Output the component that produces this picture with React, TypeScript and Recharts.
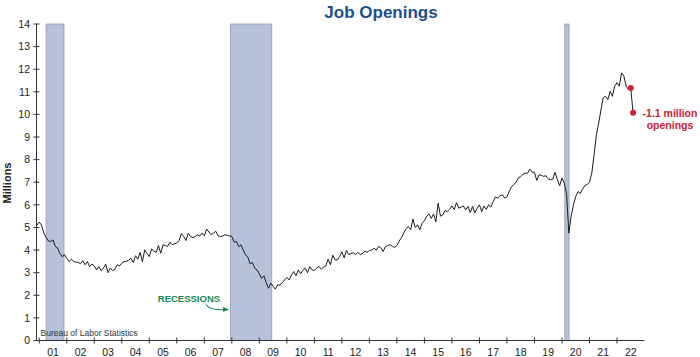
import { LineChart, Line, XAxis, YAxis, ReferenceArea, ReferenceDot } from 'recharts'

// job openings, millions, monthly (Dec 2000 - Aug 2022)
const y2000 = [5.1] // Dec only
const y2001 = [5.24, 5.1, 4.75, 4.55, 4.4, 4.38, 4.45, 4.16, 4.09, 3.86, 3.71, 3.79]
const y2002 = [3.64, 3.49, 3.6, 3.49, 3.47, 3.45, 3.4, 3.53, 3.35, 3.49, 3.27, 3.38]
const y2003 = [3.3, 3.12, 3.27, 3.09, 3.2, 3.38, 3.0, 3.2, 3.09, 3.15, 3.35, 3.3]
const y2004 = [3.42, 3.49, 3.5, 3.55, 3.64, 3.45, 3.75, 3.6, 3.9, 3.49, 4.01, 3.85]
const y2005 = [3.71, 4.05, 3.95, 3.9, 4.2, 3.86, 4.24, 4.2, 4.16, 4.35, 4.24, 4.28]
const y2006 = [4.31, 4.42, 4.73, 4.6, 4.42, 4.75, 4.6, 4.55, 4.6, 4.68, 4.62, 4.75]
const y2007 = [4.63, 4.93, 4.8, 4.68, 4.75, 4.83, 4.63, 4.6, 4.62, 4.68, 4.65, 4.63]
const y2008 = [4.6, 4.35, 4.38, 4.16, 4.23, 4.0, 3.79, 3.68, 3.39, 3.45, 3.2, 3.12]
const y2009 = [2.95, 2.75, 2.86, 2.56, 2.31, 2.53, 2.4, 2.27, 2.46, 2.45, 2.56, 2.68]
const y2010 = [2.79, 2.68, 2.9, 3.05, 2.86, 3.12, 2.95, 3.1, 3.2, 3.0, 3.27, 3.12]
const y2011 = [3.1, 3.2, 3.27, 3.16, 3.24, 3.3, 3.6, 3.35, 3.77, 3.57, 3.56, 3.71]
const y2012 = [3.92, 3.66, 3.98, 3.8, 3.85, 3.88, 3.8, 3.9, 3.8, 3.85, 3.95, 3.9]
const y2013 = [3.98, 4.0, 4.08, 4.0, 4.16, 4.1, 3.94, 4.16, 4.2, 4.24, 4.16, 4.12]
const y2014 = [4.2, 4.4, 4.55, 4.75, 4.95, 5.04, 4.9, 5.37, 5.0, 5.12, 4.9, 5.19]
const y2015 = [5.3, 5.5, 5.6, 5.4, 5.6, 5.25, 6.08, 5.5, 5.55, 5.75, 5.7, 5.8]
const y2016 = [5.95, 5.8, 6.1, 5.85, 5.9, 5.95, 5.78, 5.93, 5.66, 5.93, 5.64, 5.85]
const y2017 = [6.0, 5.7, 5.95, 5.8, 6.0, 5.9, 6.15, 6.35, 6.3, 6.4, 6.45, 6.3]
const y2018 = [6.35, 6.6, 6.8, 6.9, 7.0, 7.2, 7.25, 7.35, 7.4, 7.4, 7.58, 7.45]
const y2019 = [7.44, 7.08, 7.33, 7.3, 7.26, 7.29, 7.15, 7.11, 7.14, 7.44, 7.11, 6.85]
const y2020 = [7.19, 6.96, 6.5, 4.75, 5.5, 6.0, 6.37, 6.59, 6.5, 6.7, 6.85, 6.9]
const y2021 = [7.0, 7.4, 8.2, 9.1, 9.6, 10.2, 10.75, 10.8, 10.66, 11.02, 10.8, 11.25]
const y2022 = [11.4, 11.25, 11.84, 11.69, 11.25, 11.1, 11.17, 10.07]

const yearSeries: [number, number, number[]][] = [
  [2000, 11, y2000], [2001, 0, y2001], [2002, 0, y2002], [2003, 0, y2003],
  [2004, 0, y2004], [2005, 0, y2005], [2006, 0, y2006], [2007, 0, y2007],
  [2008, 0, y2008], [2009, 0, y2009], [2010, 0, y2010], [2011, 0, y2011],
  [2012, 0, y2012], [2013, 0, y2013], [2014, 0, y2014], [2015, 0, y2015],
  [2016, 0, y2016], [2017, 0, y2017], [2018, 0, y2018], [2019, 0, y2019],
  [2020, 0, y2020], [2021, 0, y2021], [2022, 0, y2022],
]

// recessions as fractional years
const recessionStart = [2001.25, 2007.95, 2020.1]
const recessionEnd = [2001.9, 2009.45, 2020.26]

const yearTicks = [2001, 2002, 2003, 2004, 2005, 2006, 2007, 2008, 2009, 2010, 2011,
  2012, 2013, 2014, 2015, 2016, 2017, 2018, 2019, 2020, 2021, 2022]
const valueTicks = [0, 1, 2, 3, 4, 5, 6, 7, 8, 9, 10, 11, 12, 13, 14]

const data = yearSeries.flatMap(([yr, m0, vals]) =>
  vals.map((v, i) => ({ t: yr + (m0 + i) / 12, value: v }))
)

const FONT = '"Liberation Sans", Arial, Helvetica, sans-serif'
const HALF_YEAR = 13.74
const RED = '#cc2130'
const GREEN = '#168a52'

if (typeof document !== 'undefined') document.body.style.margin = '0'

function YearTick({ x, y, payload }: any) {
  return (
    <g>
      <line x1={x} x2={x} y1={y - 3} y2={y + 3} stroke="#333" strokeWidth={1} />
      <text x={x + HALF_YEAR} y={y + 15} textAnchor="middle" fontSize={10.5} fill="#222" fontFamily={FONT}>
        {String(payload.value % 100).padStart(2, '0')}
      </text>
    </g>
  )
}

function ValueTick({ x, y, payload }: any) {
  return (
    <g>
      <line x1={x - 3} x2={x + 3} y1={y} y2={y} stroke="#333" strokeWidth={1} />
      <text x={x - 6.5} y={y} dy="0.36em" textAnchor="end" fontSize={10.5} fill="#222" fontFamily={FONT}>
        {payload.value}
      </text>
    </g>
  )
}

function EndDot(props: any) {
  const { cx, cy, index } = props
  if (index < data.length - 2) return <g key={index} />
  const last = index === data.length - 1
  return (
    <g key={index}>
      <circle cx={cx} cy={cy} r={3} fill={RED} />
      {last && (
        <text x={cx + 37} fontSize={10.5} fontWeight="bold" fill={RED} fontFamily={FONT} textAnchor="middle">
          <tspan x={cx + 37} y={cy + 4}>-1.1 million</tspan>
          <tspan x={cx + 37} y={cy + 16}>openings</tspan>
        </text>
      )}
    </g>
  )
}

function RecessionNote({ cx, cy }: any) {
  return (
    <g>
      <text x={cx - 9} y={cy - 8} textAnchor="end" fontSize={9.5} fontWeight="bold" fill={GREEN} fontFamily={FONT}>
        RECESSIONS
      </text>
      <path d={`M ${cx - 23} ${cy - 5} C ${cx - 20} ${cy}, ${cx - 12} ${cy + 0.5}, ${cx - 5} ${cy}`} fill="none" stroke={GREEN} strokeWidth={1.1} />
      <polygon points={`${cx},${cy} ${cx - 6},${cy - 2.5} ${cx - 6},${cy + 2.5}`} fill={GREEN} />
    </g>
  )
}

export default function App() {
  return (
    <div style={{ position: 'relative', width: 700, height: 357, background: '#fff', fontFamily: FONT }}>
      <LineChart width={700} height={357} data={data} margin={{ top: 24, right: 55.5, left: 0, bottom: 0.5 }}>
        <XAxis
          dataKey="t"
          type="number"
          domain={[2000.9, 2023]}
          ticks={yearTicks}
          tick={<YearTick />}
          tickLine={false}
          tickSize={0}
          tickMargin={0}
          height={16}
          axisLine={{ stroke: '#333' }}
          interval={0}
        />
        <YAxis
          domain={[0, 14]}
          ticks={valueTicks}
          tick={<ValueTick />}
          tickLine={false}
          tickSize={0}
          tickMargin={0}
          width={36.5}
          axisLine={{ stroke: '#333' }}
          interval={0}
        />
        {recessionStart.map((s, i) => (
          <ReferenceArea key={s} x1={s} x2={recessionEnd[i]} y1={0} y2={14} fill="#b6c2da" fillOpacity={1} stroke="#8f9bb4" strokeWidth={0.8} />
        ))}
        <ReferenceDot x={2007.9} y={1.37} r={0} shape={(p: any) => <RecessionNote {...p} />} />
        <Line
          dataKey="value"
          type="linear"
          stroke="#1a1a1a"
          strokeWidth={1}
          dot={EndDot}
          activeDot={false}
          isAnimationActive={false}
        />
      </LineChart>
      <svg width={700} height={357} style={{ position: 'absolute', left: 0, top: 0, pointerEvents: 'none' }}>
        <text x={381} y={18} textAnchor="middle" fontSize={17} fontWeight="bold" fill="#1b4f8e" fontFamily={FONT}>
          Job Openings
        </text>
        <text transform="translate(11,183) rotate(-90)" textAnchor="middle" fontSize={11} fontWeight="bold" fill="#222" fontFamily={FONT}>
          Millions
        </text>
        <text x={40.5} y={335.5} fontSize={8.5} fill="#333" fontFamily={FONT}>
          Bureau of Labor Statistics
        </text>
      </svg>
    </div>
  )
}
